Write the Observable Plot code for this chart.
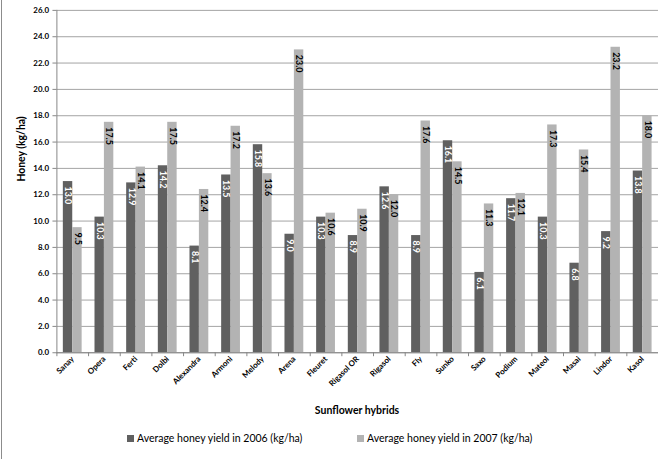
<!DOCTYPE html>
<html>
<head>
<meta charset="utf-8">
<script src="https://cdn.jsdelivr.net/npm/d3@7"></script>
<script src="https://cdn.jsdelivr.net/npm/@observablehq/plot@0.6"></script>
<style>
  html, body { margin: 0; padding: 0; background: #fff; overflow: hidden; }
  #wrap { position: relative; width: 659px; height: 459px; overflow: hidden; font-family: Lato, "Open Sans", sans-serif; }
  #frameLine { position: absolute; left: 1px; top: 0; width: 1px; height: 459px; background: #8c8c8c; }
  #chart { position: absolute; left: 0; top: 0; }
  #xtitle { position: absolute; left: 0; width: 714px; top: 404px; text-align: center; font-weight: bold; font-size: 10.5px; color: #000; }
  .leg { position: absolute; top: 432px; font-size: 10.5px; color: #000; white-space: nowrap; }
  .sw { display: inline-block; width: 7px; height: 7px; margin-right: 3px; vertical-align: 0px; }
</style>
</head>
<body>
<div id="wrap">
  <div id="frameLine"></div>
  <div id="chart"></div>
  <div id="xtitle">Sunflower hybrids</div>
  <div class="leg" id="leg1" style="left:127px"><span class="sw" style="background:#606060"></span>Average honey yield in 2006 (kg/ha)</div>
  <div class="leg" id="leg2" style="left:357px"><span class="sw" style="background:#b3b3b3"></span>Average honey yield in 2007 (kg/ha)</div>
</div>
<script>
const hybrids = ["Sanay","Opera","Ferti","Dolbi","Alexandra","Armoni","Melody","Arena","Fleuret","Rigasol OR","Rigasol","Fly","Sunko","Saxo","Podium","Mateol","Masai","Lindor","Kasol"];
const yield2006 = [13.0,10.3,12.9,14.2,8.1,13.5,15.8,9.0,10.3,8.9,12.6,8.9,16.1,6.1,11.7,10.3,6.8,9.2,13.8];
const yield2007 = [9.5,17.5,14.1,17.5,12.4,17.2,13.6,23.0,10.6,10.9,12.0,17.6,14.5,11.3,12.1,17.3,15.4,23.2,18.0];
const yTicks = [0,2,4,6,8,10,12,14,16,18,20,22,24,26];

const data06 = hybrids.map((h, i) => ({hybrid: h, value: yield2006[i]}));
const data07 = hybrids.map((h, i) => ({hybrid: h, value: yield2007[i]}));

const W = 666, H = 400, ML = 57, MR = 1, MT = 10, MB = 44;
const step = (W - ML - MR) / hybrids.length;
const pad = 0.203 * step, bw = 0.297 * step;
const fmt = d3.format(".1f");

const chart = Plot.plot({
  width: W, height: H,
  marginLeft: ML, marginRight: MR, marginTop: MT, marginBottom: MB,
  style: {fontFamily: "Lato, 'Open Sans', sans-serif", color: "#000", background: "transparent", overflow: "visible"},
  x: {domain: hybrids, padding: 0, axis: null},
  y: {domain: [0, 26], axis: null},
  marks: [
    Plot.gridY(yTicks, {stroke: "#a3a3a3", strokeOpacity: 1}),
    Plot.barY(data06, {x: "hybrid", y: "value", fill: "#606060", insetLeft: pad, insetRight: step - pad - bw}),
    Plot.barY(data07, {x: "hybrid", y: "value", fill: "#b3b3b3", insetLeft: pad + bw, insetRight: pad}),
    Plot.text(data06, {x: "hybrid", y: "value", text: d => fmt(d.value), rotate: 90, textAnchor: "start",
      dx: pad + bw / 2 - step / 2, dy: 5, fill: "#fff", fontWeight: "bold", fontSize: 9}),
    Plot.text(data07, {x: "hybrid", y: "value", text: d => fmt(d.value), rotate: 90, textAnchor: "start",
      dx: pad + bw * 1.5 - step / 2, dy: 5, fill: "#000", fontWeight: "bold", fontSize: 9}),
    Plot.ruleY([0], {stroke: "#868686"}),
    Plot.frame({anchor: "left", stroke: "#868686"}),
    Plot.axisY(yTicks, {tickFormat: fmt, tickSize: 4, tickPadding: 4, stroke: "#868686", fontWeight: "bold", fontSize: 8, label: null}),
    Plot.text(["Honey (kg/ha)"], {frameAnchor: "left", dx: -36, rotate: -90, fontWeight: "bold", fontSize: 10.5, fill: "#000"}),
    Plot.axisX({tickSize: 0, tickPadding: 5, tickRotate: -45, fontWeight: "bold", fontSize: 8, label: null}),
    Plot.axisX({tickSize: 4, tickFormat: () => "", dx: -step / 2, stroke: "#868686", label: null})
  ]
});
document.getElementById("chart").appendChild(chart);
</script>
</body>
</html>
